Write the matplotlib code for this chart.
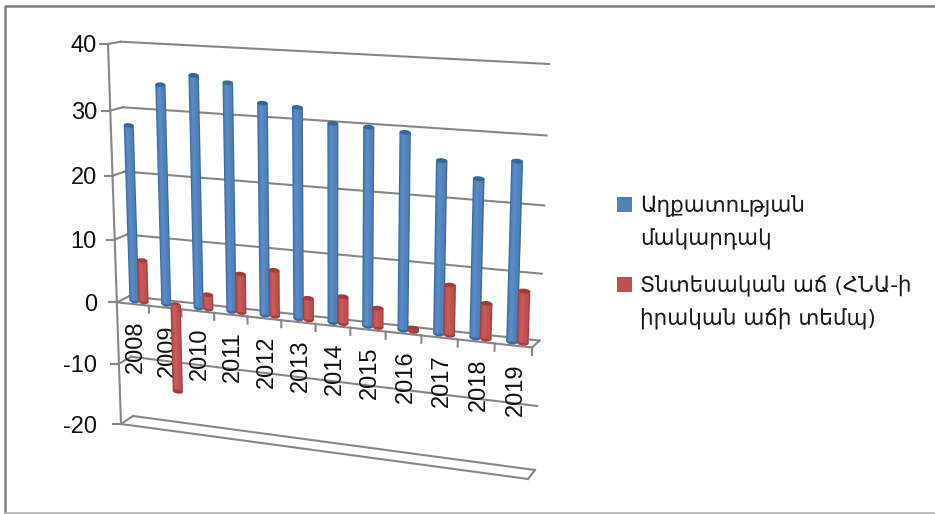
import numpy as np
import matplotlib
matplotlib.use("Agg")
from matplotlib import pyplot as plt
from matplotlib.patches import Ellipse, Rectangle
from matplotlib.transforms import Transform

years = ["2008", "2009", "2010", "2011", "2012", "2013", "2014", "2015", "2016", "2017", "2018", "2019"]
poverty = [27.6, 34.1, 35.8, 35.0, 32.3, 32.0, 30.0, 29.8, 29.4, 25.7, 23.5, 26.4]
growth = [6.6, -14.1, 2.2, 6.0, 7.1, 3.3, 4.1, 2.9, 0.4, 7.5, 5.3, 7.7]
yticks = [40, 30, 20, 10, 0, -10, -20]
legend_labels = ["Աղքատության\nմակարդակ", "Տնտեսական աճ (ՀՆԱ-ի\nիրական աճի տեմպ)"]


def homography(corners):
    # corners for (x=0,v=40), (x=0,v=-20), (x=12,v=-20), (x=12,v=40)
    src = [(0, 40), (0, -20), (12, -20), (12, 40)]
    a = []
    b = []
    for (x, y), (px, py) in zip(src, corners):
        a.append([x, y, 1, 0, 0, 0, -px * x, -px * y])
        a.append([0, 0, 0, x, y, 1, -py * x, -py * y])
        b += [px, py]
    h = np.linalg.solve(np.array(a, float), np.array(b, float))
    return np.append(h, 1).reshape(3, 3)


FRONT = homography([(108, 44), (121, 424), (528, 479), (541, 67)])
BACK = homography([(120.6, 41.7), (133, 416), (535, 470), (549, 64)])


class Tilted(Transform):
    # maps (category position, value) to pixels, 0 = front, 1 = back wall
    input_dims = 2
    output_dims = 2

    def __init__(self, plane_pos):
        super().__init__()
        self.plane_pos = plane_pos

    def _plane(self, h, pts):
        p = np.column_stack([pts, np.ones(len(pts))]) @ h.T
        return p[:, :2] / p[:, 2:]

    def transform_non_affine(self, values):
        pts = np.asarray(values, float)
        return (1 - self.plane_pos) * self._plane(FRONT, pts) + self.plane_pos * self._plane(BACK, pts)


fig = plt.figure(figsize=(9.35, 5.14), dpi=100)
ax = fig.add_axes([0, 0, 1, 1])
ax.set_xlim(0, 935)
ax.set_ylim(514, 0)
ax.axis("off")

front = Tilted(0) + ax.transData
wall = Tilted(1) + ax.transData
mid = Tilted(0.5) + ax.transData
grid_c = "#868686"
lw = 1.5
tick_font = "Liberation Sans"

# outer frame of the screenshot
ax.plot([5, 5, 935], [513, 6, 6], color="#7f7f7f", lw=1.8)
ax.plot([5, 935], [513, 513], color="#b5b5b5", lw=1.8)

for v in yticks:
    ax.plot([0, 12], [v, v], color=grid_c, lw=lw, transform=wall, zorder=1)
    a = Tilted(0).transform_non_affine([[0, v]])[0]
    b = Tilted(1).transform_non_affine([[0, v]])[0]
    ax.plot([a[0], b[0]], [a[1], b[1]], color=grid_c, lw=lw, zorder=1)
    ax.plot([a[0] - 8, a[0]], [a[1], a[1]], color=grid_c, lw=lw, zorder=1)
    ax.text(97, a[1] + 2.5, str(v), ha="right", va="center", fontsize=17,
            family=tick_font, color="#111111", zorder=5)

# left axis, floor and the category axis
ax.plot([0, 0], [40, -20], color=grid_c, lw=lw, transform=front, zorder=1)
ax.plot([0, 12], [-20, -20], color=grid_c, lw=lw, transform=front, zorder=1)
ax.plot([0, 12], [0, 0], color=grid_c, lw=lw, transform=front, zorder=2)
a = Tilted(0).transform_non_affine([[12, -20], [12, 0]])
b = Tilted(1).transform_non_affine([[12, -20], [12, 0]])
for i in range(2):
    ax.plot([a[i][0], b[i][0]], [a[i][1], b[i][1]], color=grid_c, lw=lw, zorder=1)
for i in range(13):
    ax.plot([i, i], [0, -1.1], color=grid_c, lw=lw, transform=front, zorder=2)
for i, y in enumerate(years):
    ax.text(i + 0.57, -2.6, y, rotation=90, ha="center", va="top", fontsize=17,
            family=tick_font, color="#111111", transform=front, zorder=3)


def cylinder(x, v, width, dark, main, light, cap, z):
    # nested bars give the round shading, no seams between them
    ax.add_patch(Ellipse((x, 0), width, 0.9, color=dark, lw=0, transform=mid, zorder=z))
    ax.bar(x, v, width, color=dark, lw=0, transform=mid, zorder=z)
    ax.bar(x - 0.01 * width, v, width * 0.78, color=main, lw=0, transform=mid, zorder=z)
    ax.bar(x - 0.1 * width, v, width * 0.3, color=light, lw=0, transform=mid, zorder=z)
    ax.add_patch(Ellipse((x, v), width, 0.7, color=cap, lw=0, transform=mid, zorder=z))


for i in range(len(years)):
    cylinder(i + 0.36, poverty[i], 0.31, "#3c6a9f", "#4f81bd", "#5a8ac4", "#3a6797", 6 + i * 0.01)
    cylinder(i + 0.65, growth[i], 0.32, "#a53f3c", "#c0504d", "#c85a57", "#a33b39", 7 + i * 0.01)

# legend
ax.add_patch(Rectangle((617, 197), 15, 15, fc="#4f81bd", ec="none"))
ax.add_patch(Rectangle((617, 277), 15, 15, fc="#c0504d", ec="none"))
ax.text(640, 223, legend_labels[0], ha="left", va="center", fontsize=15.5, linespacing=1.68, color="#1a1a1a")
ax.text(640, 302, legend_labels[1], ha="left", va="center", fontsize=15.5, linespacing=1.68, color="#1a1a1a")

ax.set_xlim(0, 935)
ax.set_ylim(514, 0)
fig.savefig("out.png", dpi=100)
